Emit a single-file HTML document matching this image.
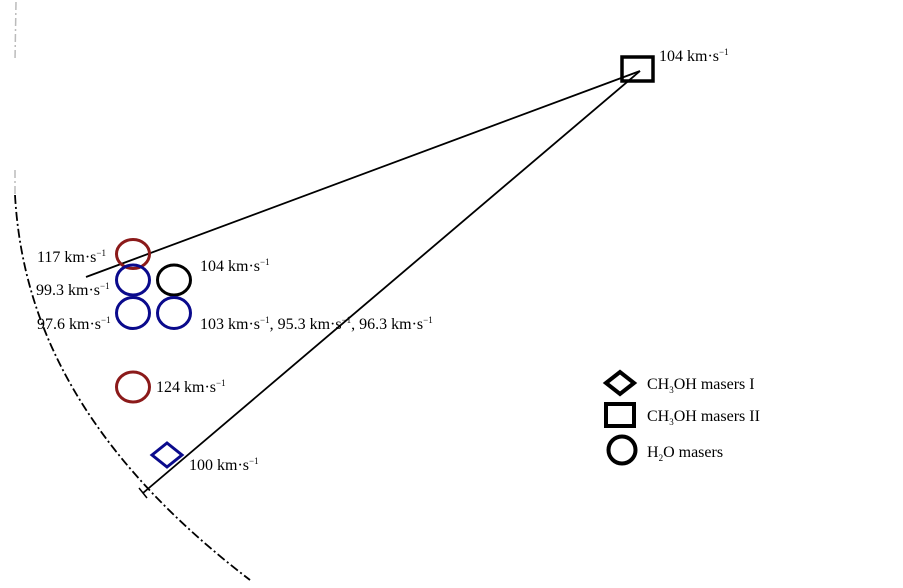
<!DOCTYPE html>
<html><head><meta charset="utf-8"><style>
html,body{margin:0;padding:0;background:#fff;}
svg{display:block}
text{font-family:"Liberation Serif",serif;font-size:16px;fill:#000}
</style></head><body>
<svg width="903" height="588" viewBox="0 0 903 588" xmlns="http://www.w3.org/2000/svg">
<path d="M16,2 L15,60" stroke="#bbb" stroke-width="1.5" fill="none" stroke-dasharray="8,3,2,3"/>
<path d="M15,170 L15,195" stroke="#bbb" stroke-width="1.5" fill="none" stroke-dasharray="8,3,2,3"/>
<path d="M15,195 C22,320 80,450 250,580" stroke="#000" stroke-width="1.8" fill="none" stroke-dasharray="9,3,2,3"/>
<line x1="86" y1="277" x2="640" y2="71" stroke="#000" stroke-width="1.8"/>
<line x1="143" y1="493" x2="640" y2="71" stroke="#000" stroke-width="1.8"/>
<line x1="139" y1="488" x2="147" y2="498" stroke="#000" stroke-width="1.5"/>
<rect x="622" y="57" width="31" height="24" fill="none" stroke="#000" stroke-width="3.5"/>
<g fill="none" stroke-width="3">
<ellipse cx="133" cy="254" rx="16.5" ry="14.5" stroke="#8b1a1a"/>
<ellipse cx="133" cy="280" rx="16.5" ry="15" stroke="#0a0a8c"/>
<ellipse cx="174" cy="280" rx="16.5" ry="15" stroke="#000"/>
<ellipse cx="133" cy="313" rx="16.5" ry="15.5" stroke="#0a0a8c"/>
<ellipse cx="174" cy="313" rx="16.5" ry="15.5" stroke="#0a0a8c"/>
<ellipse cx="133" cy="387" rx="16.5" ry="15" stroke="#8b1a1a"/>
<polygon points="152,455 167,443 182,455 167,467" stroke="#0a0a8c"/>
</g>
<g fill="none" stroke="#000" stroke-width="4">
<polygon points="606,383 620,372 634,383 620,394"/>
<rect x="606" y="404" width="28" height="22"/>
<circle cx="622" cy="450" r="13.5"/>
</g>
<text x="659" y="61">104 km·s<tspan dy="-6" font-size="9">−1</tspan></text>
<text x="37" y="262">117 km·s<tspan dy="-6" font-size="9">−1</tspan></text>
<text x="36" y="295">99.3 km·s<tspan dy="-6" font-size="9">−1</tspan></text>
<text x="37" y="329">97.6 km·s<tspan dy="-6" font-size="9">−1</tspan></text>
<text x="200" y="271">104 km·s<tspan dy="-6" font-size="9">−1</tspan></text>
<text x="200" y="329">103 km·s<tspan dy="-6" font-size="9">−1</tspan><tspan dy="6">, 95.3 km·s</tspan><tspan dy="-6" font-size="9">−1</tspan><tspan dy="6">, 96.3 km·s</tspan><tspan dy="-6" font-size="9">−1</tspan></text>
<text x="156" y="392">124 km·s<tspan dy="-6" font-size="9">−1</tspan></text>
<text x="189" y="470">100 km·s<tspan dy="-6" font-size="9">−1</tspan></text>
<text x="647" y="389">CH<tspan dy="4" font-size="9">3</tspan><tspan dy="-4">OH masers I</tspan></text>
<text x="647" y="421">CH<tspan dy="4" font-size="9">3</tspan><tspan dy="-4">OH masers II</tspan></text>
<text x="647" y="457">H<tspan dy="4" font-size="9">2</tspan><tspan dy="-4">O masers</tspan></text>
</svg>
</body></html>
